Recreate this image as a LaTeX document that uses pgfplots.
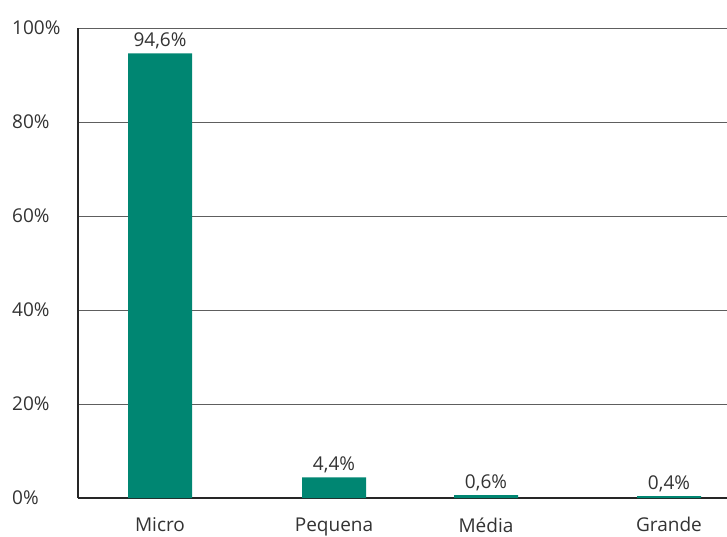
\documentclass[border=0pt]{standalone}
\usepackage{pgfplots}
\pgfplotsset{compat=1.18}
\usepackage{fontspec}
\setmainfont{Open Sans}
\definecolor{barteal}{HTML}{008672}
\definecolor{txtgray}{HTML}{333333}
\definecolor{gridgray}{HTML}{5E5E5E}
\begin{document}
\begin{tikzpicture}
  \useasboundingbox (-78pt,-38pt) rectangle (649pt,498pt);
  \begin{axis}
    [
    scale only axis,
    width=649pt, height=470pt,
    xmin=0, xmax=649,
    ymin=0, ymax=100,
    axis x line=bottom, axis y line=left,
    axis line style={color=black!85, line width=1.8pt, -},
    ytick={0,20,40,60,80,100},
    yticklabels={0\%,20\%,40\%,60\%,80\%,100\%},
    tick label style={font=\fontsize{19}{22}\selectfont, text=txtgray},
    yticklabel style={anchor=west, inner sep=0pt, xshift=-66pt},
    xtick={82,256,408,591},
    xticklabels={Micro,Pequena,Média,Grande},
    xticklabel style={yshift=-16pt},
    major tick length=0pt,
    ymajorgrids,
    grid style={gridgray, line width=0.9pt},
    ybar, bar width=64,
    nodes near coords={\pgfmathprintnumber[fixed,fixed zerofill,precision=1,use comma,assume math mode=true]{\pgfplotspointmeta}\%},
    nodes near coords style={font=\fontsize{19}{22}\selectfont, text=txtgray, inner sep=4pt},
    point meta=y,
    clip=false,
    ]
    \addplot[fill=barteal, draw=none]
    coordinates {(82,94.6) (256,4.4) (408,0.6) (591,0.4)};
  \end{axis}
\end{tikzpicture}
\end{document}
